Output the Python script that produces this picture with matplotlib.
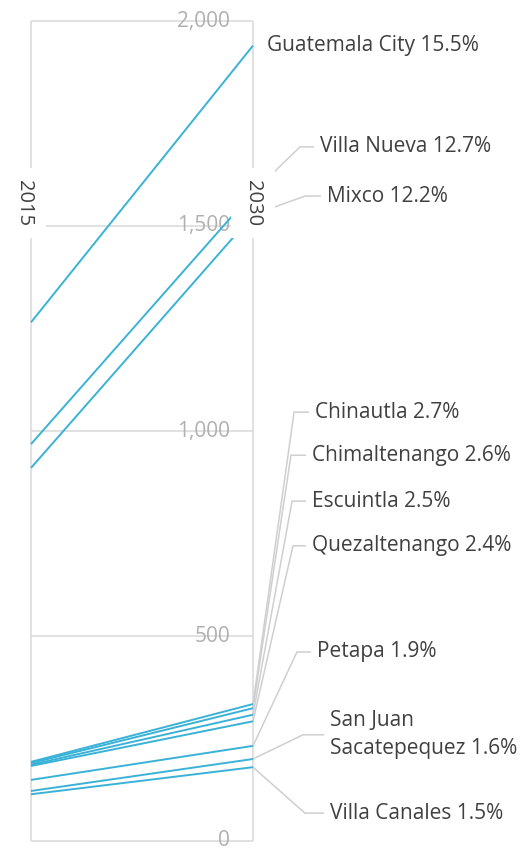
import matplotlib
matplotlib.use('Agg')
from matplotlib import pyplot as plt

# city populations (thousands), 2015 -> 2030
cities = ['Guatemala City', 'Villa Nueva', 'Mixco', 'Chinautla', 'Chimaltenango',
          'Escuintla', 'Quezaltenango', 'Petapa', 'San Juan\nSacatepequez', 'Villa Canales']
pop_2015 = [1265, 968, 910, 193, 190, 186, 183, 149, 122, 114]
pop_2030 = [1940, 1582, 1527, 334, 324, 308, 292, 232, 200, 180]
shares = ['15.5%', '12.7%', '12.2%', '2.7%', '2.6%', '2.5%', '2.4%', '1.9%', '1.6%', '1.5%']
yticks = [0, 500, 1000, 1500, 2000]
years = ['2015', '2030']

# label layout: (elbow x, label y, text x) in data units, None = no leader
label_pos = [
    (None, 1941, 1.063),
    (1.212, 1693, 1.302),
    (1.234, 1573, 1.333),
    (1.185, 1046, 1.279),
    (1.171, 941, 1.266),
    (1.176, 829, 1.266),
    (1.180, 720, 1.266),
    (1.198, 461, 1.288),
    (1.225, 259, 1.347),
    (1.234, 68, 1.347),
]

line_col = '#3ab2d8'
grid_col = '#d9d9d9'
text_col = '#404040'

fig = plt.figure(figsize=(5.2, 8.49), dpi=100)
ax = fig.add_axes([0, 0, 1, 1])
ax.set_xlim(-31 / 222, 489 / 222)
ax.set_ylim(-8 / 0.41, 841 / 0.41)
ax.axis('off')

# grid + the two year axes
ax.hlines(yticks, 0, 1, color=grid_col, lw=1.1, zorder=1)
ax.vlines([0, 1], 0, 2000, color=grid_col, lw=1.1, zorder=1)
for t in yticks:
    ax.text(0.896, t, f'{t:,}', ha='right', va='center', fontsize=15,
            color='#b0b0b0', family='Open Sans', zorder=2)

# slope lines
for a, b in zip(pop_2015, pop_2030):
    ax.plot([0, 1], [a, b], color=line_col, lw=1.4, zorder=3, solid_capstyle='butt')

# leaders and labels
for i, (name, share) in enumerate(zip(cities, shares)):
    ex, ly, tx = label_pos[i]
    if ex is not None:
        ax.plot([1, ex, tx - 0.03], [pop_2030[i], ly, ly], color='#cfcfcf',
                lw=1.1, zorder=2)
    ax.text(tx, ly, f'{name} {share}', ha='left', va='center', fontsize=15,
            color=text_col, family='Open Sans', linespacing=1.45, zorder=5)

# year labels on the axes
for xi, yr in zip([-0.03, 1], years):
    ax.text(xi, 1556, yr, rotation=270, ha='center', va='center', fontsize=14.5,
            color=text_col, family='Open Sans', zorder=4,
            bbox=dict(boxstyle='square,pad=0.6', fc='white', ec='none'))

fig.savefig('out.png', dpi=100)
